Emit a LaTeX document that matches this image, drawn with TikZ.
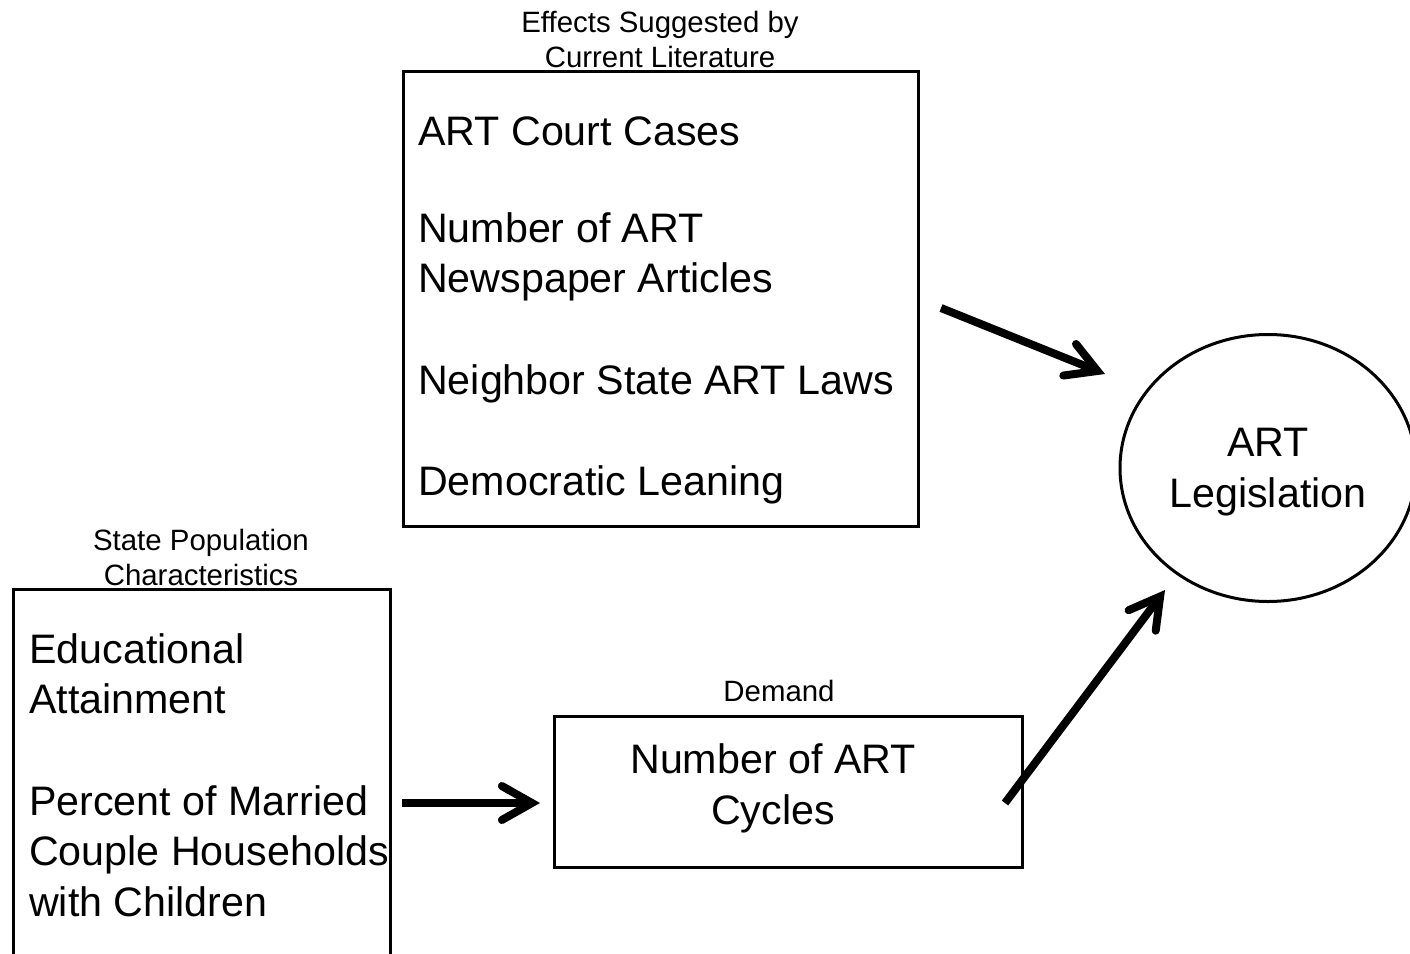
\documentclass[tikz,border=0pt]{standalone}
\usepackage{fontspec}
\setmainfont{Liberation Sans}
\usetikzlibrary{arrows.meta,shapes.geometric}
\tikzset{
  box/.style={draw, line width=3pt, rectangle, inner sep=0pt, anchor=north west},
  big/.style={inner sep=0pt, font=\fontsize{41.2}{50.5}\selectfont},
  small/.style={inner sep=0pt, align=center, font=\fontsize{29.4}{35}\selectfont},
  conn/.style={line width=8pt, line cap=butt,
    -{Straight Barb[length=30pt, width=34pt, line cap=round, line join=miter]}},
}
\begin{document}
\begin{tikzpicture}[x=1pt, y=-1pt]
\useasboundingbox (0,0) rectangle (1410,953);
\clip (0,0) rectangle (1410,953);
% top box
\node[box, minimum width=515pt, minimum height=455pt] (effects) at (402,70) {};
\node[small] (effcap) at (660,39.5) {Effects Suggested by\\Current Literature};
\node[big, anchor=west] (court) at (418,131) {ART Court Cases};
\node[big, anchor=west, align=left] (news) at (418,257) {Number of ART\\Newspaper Articles};
\node[big, anchor=west] (neigh) at (418,384) {Neighbor State ART Laws};
\node[big, anchor=west] (dem) at (418,485) {Democratic Leaning};
% left box
\node[box, minimum width=377pt, minimum height=420pt] (pop) at (12,588) {};
\node[small] (popcap) at (201,557.5) {State Population\\Characteristics};
\node[big, anchor=west, align=left] (edu) at (29,674) {Educational\\Attainment};
\node[big, anchor=west, align=left] (married) at (29,851) {Percent of Married\\Couple Households\\with Children};
% demand box
\node[box, minimum width=468pt, minimum height=151pt] (demand) at (553,715) {};
\node[small] (demcap) at (779,691) {Demand};
\node[big, align=center] (cycles) at (773,788.5) {Number of ART\\Cycles};
% ellipse
\node[draw, line width=3pt, ellipse, minimum width=296pt, minimum height=267pt, inner sep=0pt] (legis) at (1268,468) {};
\node[big, align=center] (legtext) at (1268,472) {ART\\Legislation};
% connectors
\coordinate (a1s) at (941,308);
\coordinate (a1e) at (1105,374);
\coordinate (a2s) at (1005,803);
\coordinate (a2e) at (1165,590);
\coordinate (a3s) at (402,803);
\coordinate (a3e) at (540,803);
\draw[conn] (a1s) -- (a1e);
\draw[conn] (a2s) -- (a2e);
\draw[conn] (a3s) -- (a3e);
\end{tikzpicture}
\end{document}
